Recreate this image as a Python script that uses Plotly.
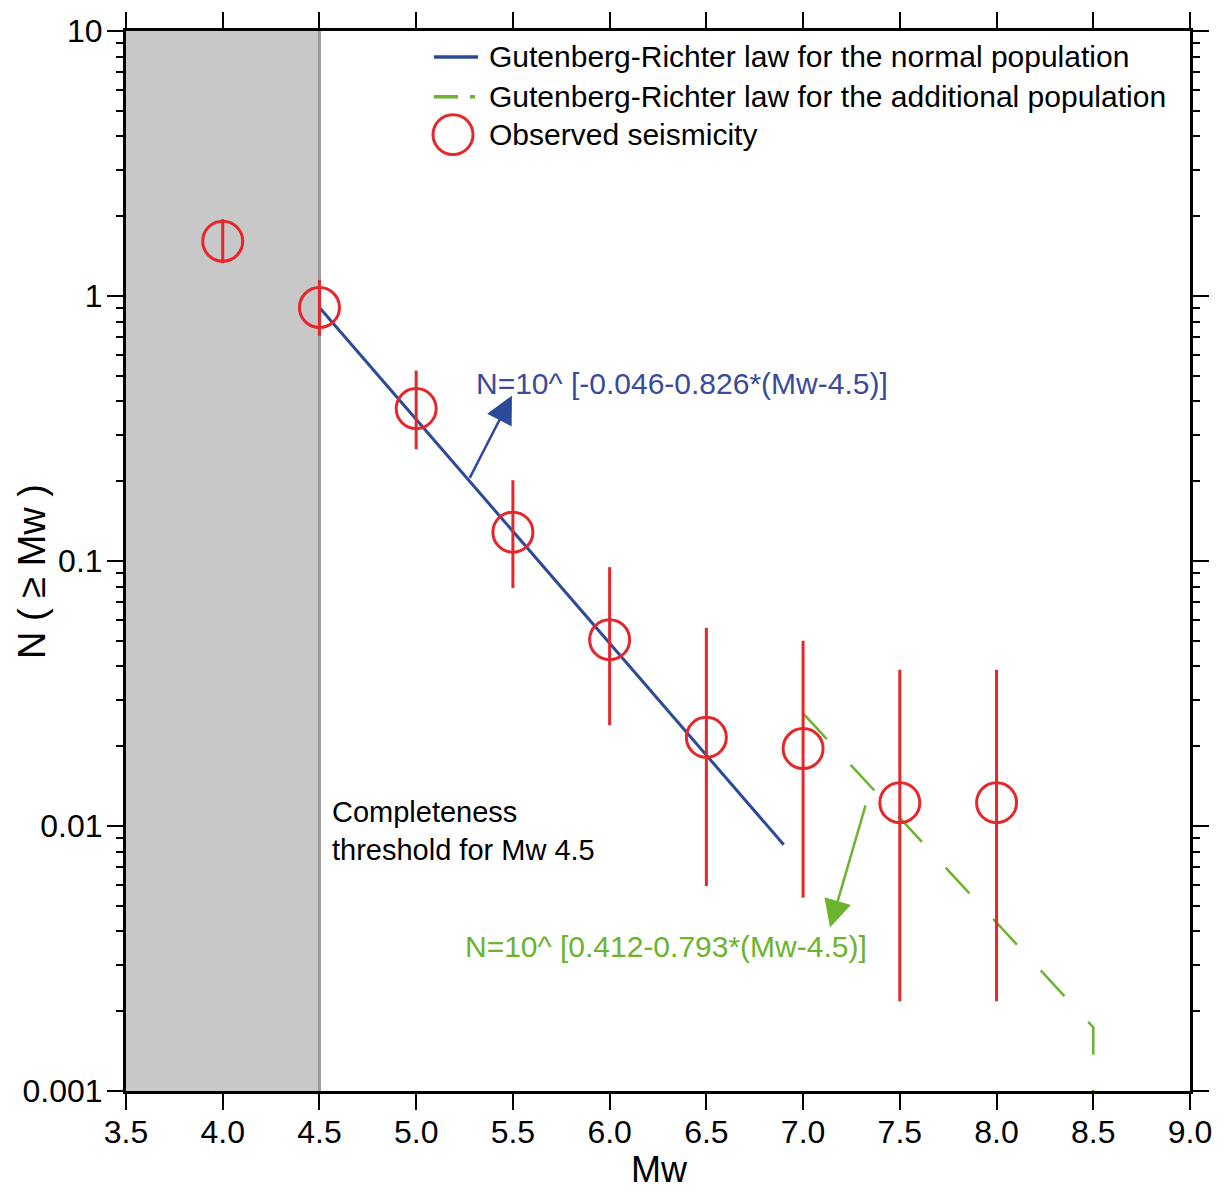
import plotly.graph_objects as go

# ---------------- data ----------------
mw_obs = [4.0, 4.5, 5.0, 5.5, 6.0, 6.5, 7.0, 7.5, 8.0]
n_obs = [1.61, 0.905, 0.376, 0.1285, 0.0505, 0.0216, 0.0196, 0.01225, 0.01225]
n_upper = [1.95, 1.15, 0.523, 0.2017, 0.0948, 0.0560, 0.0500, 0.0389, 0.0389]
n_lower = [1.33, 0.708, 0.264, 0.0791, 0.0240, 0.00594, 0.00536, 0.00218, 0.00218]

mw_normal = [4.5, 6.9]
n_normal = [0.905, 0.0085]

mw_additional = [7.0, 8.5, 8.5]
n_additional = [0.0266, 0.00174, 0.001]

completeness_mw = 4.5
x_tick_vals = [3.5, 4.0, 4.5, 5.0, 5.5, 6.0, 6.5, 7.0, 7.5, 8.0, 8.5, 9.0]
x_tick_text = ["3.5", "4.0", "4.5", "5.0", "5.5", "6.0", "6.5", "7.0", "7.5", "8.0", "8.5", "9.0"]
y_tick_vals = [0.001, 0.01, 0.1, 1, 10]
y_tick_text = ["0.001", "0.01", "0.1", "1", "10"]
y_minor_vals = [m * 10.0 ** e for e in range(-3, 1) for m in range(2, 10)]

legend_labels = [
    "Gutenberg-Richter law for the normal population",
    "Gutenberg-Richter law for the additional population",
    "Observed seismicity",
]
formula_normal = "N=10^ [-0.046-0.826*(Mw-4.5)]"
formula_additional = "N=10^ [0.412-0.793*(Mw-4.5)]"

# ---------------- style ----------------
RED = "#e5262b"
BLUE = "#2c4a9a"
BLUE_TXT = "#3a4b9b"
GREEN = "#6ab42e"
FONT = "Liberation Sans, Arial, sans-serif"

W, H = 1225, 1194
L, R, T, B = 126, 35, 27, 103
PW, PH = W - L - R, H - T - B


def px_x(p):
    return (p - L) / PW


def px_y(p):
    return 1 - (p - T) / PH


err_plus = [u - v for u, v in zip(n_upper, n_obs)]
err_minus = [v - lo for v, lo in zip(n_obs, n_lower)]

fig = go.Figure()

fig.add_trace(go.Scatter(
    x=mw_normal, y=n_normal, mode="lines",
    line=dict(color=BLUE, width=3), showlegend=False, name=legend_labels[0]))

fig.add_trace(go.Scatter(
    x=mw_additional, y=n_additional, mode="lines",
    line=dict(color=GREEN, width=2.5, dash="35px,35px"), showlegend=False,
    name=legend_labels[1]))

fig.add_trace(go.Scatter(
    x=mw_obs, y=n_obs, mode="markers",
    marker=dict(symbol="circle-open", size=40, color=RED, line=dict(color=RED, width=3)),
    error_y=dict(type="data", array=err_plus, arrayminus=err_minus, symmetric=False,
                 color=RED, thickness=3, width=0),
    showlegend=False, name=legend_labels[2]))

shapes = [
    dict(type="rect", xref="x", yref="paper", x0=3.5, x1=completeness_mw, y0=0, y1=1,
         fillcolor="#c8c8c8", line=dict(width=0), layer="below"),
    dict(type="line", xref="x", yref="paper", x0=completeness_mw, x1=completeness_mw, y0=0, y1=1,
         line=dict(color="#999999", width=3), layer="below"),
    # legend samples
    dict(type="line", xref="paper", yref="paper", x0=px_x(434), x1=px_x(478), y0=px_y(53), y1=px_y(53),
         line=dict(color=BLUE, width=3.5)),
    dict(type="line", xref="paper", yref="paper", x0=px_x(434), x1=px_x(476), y0=px_y(93), y1=px_y(93),
         line=dict(color=GREEN, width=3.5, dash="24px,12px,5px,60px")),
    dict(type="circle", xref="paper", yref="paper", x0=px_x(433), x1=px_x(473), y0=px_y(151), y1=px_y(111),
         line=dict(color=RED, width=3)),
]

annotations = []
for i, (lab, py) in enumerate(zip(legend_labels, [53, 93, 131])):
    annotations.append(dict(xref="paper", yref="paper", x=px_x(487), y=px_y(py), text=lab,
                            showarrow=False, xanchor="left", yanchor="middle",
                            font=dict(family=FONT, size=30, color="black")))

annotations += [
    dict(x=5.30, y=-0.331, text=formula_normal, showarrow=False, xanchor="left", yanchor="middle",
         font=dict(family=FONT, size=30, color=BLUE_TXT)),
    dict(x=5.24, y=-2.455, text=formula_additional, showarrow=False, xanchor="left", yanchor="middle",
         font=dict(family=FONT, size=30, color=GREEN)),
    dict(x=4.555, y=-2.019, text="Completeness<br>threshold for Mw 4.5", showarrow=False,
         xanchor="left", yanchor="middle", align="left",
         font=dict(family=FONT, size=29, color="black")),
    # arrows
    dict(x=5.495, y=-0.376, ax=5.273, ay=-0.692, axref="x", ayref="y", text="", showarrow=True,
         arrowhead=2, arrowsize=2.2, arrowwidth=2.5, arrowcolor=BLUE, standoff=0, startstandoff=0),
    dict(x=7.139, y=-2.383, ax=7.325, ay=-1.917, axref="x", ayref="y", text="", showarrow=True,
         arrowhead=2, arrowsize=2.2, arrowwidth=2.5, arrowcolor=GREEN, standoff=0, startstandoff=0),
    # axis titles
    dict(xref="paper", yref="paper", x=px_x(32), y=px_y(570), text="N ( ≥ Mw )", textangle=-90,
         showarrow=False, xanchor="center", yanchor="middle",
         font=dict(family=FONT, size=38, color="black")),
    dict(xref="paper", yref="paper", x=px_x(659), y=px_y(1170), text="Mw",
         showarrow=False, xanchor="center", yanchor="middle",
         font=dict(family=FONT, size=36, color="black")),
]

fig.update_layout(
    width=W, height=H,
    margin=dict(l=L, r=R, t=T, b=B),
    paper_bgcolor="white", plot_bgcolor="white",
    shapes=shapes, annotations=annotations,
    showlegend=False,
    xaxis=dict(range=[3.5, 9.0], tickmode="array", tickvals=x_tick_vals, ticktext=x_tick_text,
               showgrid=False, zeroline=False, showline=True, linecolor="black", linewidth=3,
               mirror="allticks", ticks="outside", ticklen=16, tickwidth=2, tickcolor="black",
               ticklabelstandoff=-5,
               tickfont=dict(family=FONT, size=32, color="black")),
    yaxis=dict(type="log", range=[-3, 1], tickmode="array", tickvals=y_tick_vals, ticktext=y_tick_text,
               showgrid=False, zeroline=False, showline=True, linecolor="black", linewidth=3,
               mirror="allticks", ticks="outside", ticklen=16, tickwidth=2, tickcolor="black",
               ticklabelstandoff=-2,
               tickfont=dict(family=FONT, size=32, color="black"),
               minor=dict(tickmode="array", tickvals=y_minor_vals, ticks="outside", ticklen=7,
                          tickwidth=1.5, tickcolor="black", showgrid=False)),
)

fig.write_html("out.html")
